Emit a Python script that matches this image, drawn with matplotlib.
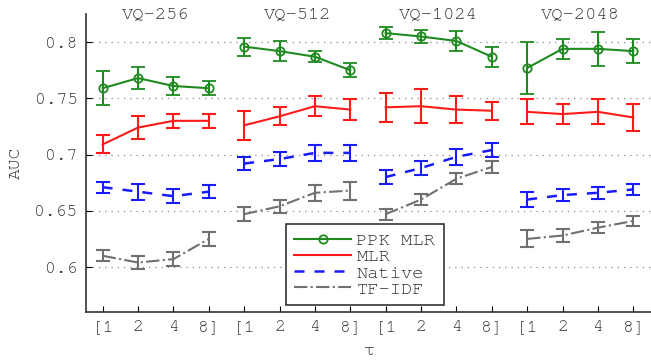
import numpy as np
import matplotlib
matplotlib.use('Agg')
import matplotlib.pyplot as plt
from matplotlib import font_manager
from matplotlib.lines import Line2D
from matplotlib.transforms import blended_transform_factory

# Velg en Courier-lignende font som finnes
names = {f.name for f in font_manager.fontManager.ttflist}
mono = next((n for n in ['Nimbus Mono PS', 'Nimbus Mono L', 'FreeMono', 'Courier New', 'Courier',
                         'Liberation Mono', 'DejaVu Sans Mono'] if n in names), 'monospace')
plt.rcParams['font.family'] = [mono, 'DejaVu Sans']
wide = mono != 'Liberation Mono'

# Gruppene og tau-verdiene
groups = ['VQ-256', 'VQ-512', 'VQ-1024', 'VQ-2048']
tau_labels = ['[1', '2', '4', '8]']

# AUC-verdier (en rad per gruppe) og feilmarginer
ppk_mlr = [[0.759, 0.768, 0.761, 0.759],
           [0.796, 0.792, 0.787, 0.775],
           [0.808, 0.805, 0.801, 0.787],
           [0.777, 0.794, 0.794, 0.792]]
ppk_mlr_err = [[0.015, 0.010, 0.008, 0.006],
               [0.008, 0.009, 0.005, 0.006],
               [0.005, 0.006, 0.009, 0.009],
               [0.023, 0.009, 0.015, 0.011]]

mlr = [[0.709, 0.724, 0.730, 0.730],
       [0.726, 0.734, 0.743, 0.740],
       [0.742, 0.743, 0.740, 0.739],
       [0.738, 0.736, 0.738, 0.733]]
mlr_err = [[0.008, 0.010, 0.006, 0.006],
           [0.013, 0.008, 0.009, 0.009],
           [0.013, 0.015, 0.012, 0.008],
           [0.011, 0.009, 0.011, 0.012]]

native = [[0.671, 0.667, 0.663, 0.667],
          [0.692, 0.696, 0.7015, 0.7015],
          [0.680, 0.688, 0.698, 0.704],
          [0.660, 0.664, 0.666, 0.669]]
native_err = [[0.005, 0.007, 0.006, 0.006],
              [0.006, 0.006, 0.007, 0.007],
              [0.006, 0.006, 0.007, 0.006],
              [0.0065, 0.0055, 0.0055, 0.005]]

tfidf = [[0.610, 0.604, 0.607, 0.625],
         [0.647, 0.654, 0.666, 0.668],
         [0.647, 0.660, 0.6785, 0.689],
         [0.625, 0.628, 0.635, 0.641]]
tfidf_err = [[0.005, 0.006, 0.006, 0.006],
             [0.0065, 0.006, 0.007, 0.008],
             [0.005, 0.005, 0.005, 0.005],
             [0.0075, 0.006, 0.005, 0.0045]]

series = [
    ('PPK MLR', ppk_mlr, ppk_mlr_err, dict(color='#1f8a1f', ls='-', marker='o', ms=6, mfc='none', mew=1.3)),
    ('MLR', mlr, mlr_err, dict(color='#ff1a1a', ls='-')),
    ('Native', native, native_err, dict(color='#1a1aff', ls=(0, (4, 4)), lw=1.8)),
    ('TF-IDF', tfidf, tfidf_err, dict(color='#707070', ls='-.')),
]

fig = plt.figure(figsize=(6.51, 3.63), dpi=100)
ax = fig.add_axes([86 / 651, 51 / 363, 565 / 651, 298 / 363])

n = len(tau_labels)
handles = []
for label, vals, errs, style in series:
    kw = dict(lw=1.5)
    kw.update(style)
    for g in range(len(groups)):
        x = np.arange(n) + g * n + 1
        ax.errorbar(x, vals[g], yerr=errs[g], capsize=5, elinewidth=1.5, capthick=1.5, **kw)
    handles.append(Line2D([], [], label=label, **kw))

ax.set_xlim(0.53, 16.5)
ax.set_ylim(0.56, 0.825)
ax.set_xticks(np.arange(1, n * len(groups) + 1))
ax.set_xticklabels(tau_labels * len(groups))
ax.set_yticks([0.6, 0.65, 0.7, 0.75, 0.8])
ax.set_yticklabels(['0.6', '0.65', '0.7', '0.75', '0.8'])
ax.tick_params(direction='in', length=4, labelsize=13 if wide else 12, labelcolor='#333333', pad=6)
ax.yaxis.grid(True, ls=(0, (1, 4)), color='#888888', lw=0.9)
ax.set_axisbelow(True)
for s in ['top', 'right']:
    ax.spines[s].set_visible(False)
for s in ['left', 'bottom']:
    ax.spines[s].set_color('#333333')
    ax.spines[s].set_linewidth(1.2)

trans = blended_transform_factory(ax.transData, ax.transAxes)
for g, name in enumerate(groups):
    ax.text(g * n + 2.5, 1.0, name, transform=trans, ha='center', va='center',
            fontsize=13.5, color='#333333')

ax.set_xlabel('τ', fontsize=13, color='#333333', labelpad=7)
ax.set_ylabel('AUC', fontsize=13, color='#333333', labelpad=8)

leg = ax.legend(handles=handles, loc='lower left', bbox_to_anchor=(0.354, 0.023), borderaxespad=0,
                fontsize=13.5 if wide else 12.5, handlelength=3.0, handletextpad=0.3, labelspacing=0.0,
                borderpad=0.45, fancybox=False, framealpha=1)
leg.get_frame().set_edgecolor('#333333')
leg.get_frame().set_linewidth(1.2)
for t in leg.get_texts():
    t.set_color('#333333')

fig.savefig('out.png', dpi=100)
